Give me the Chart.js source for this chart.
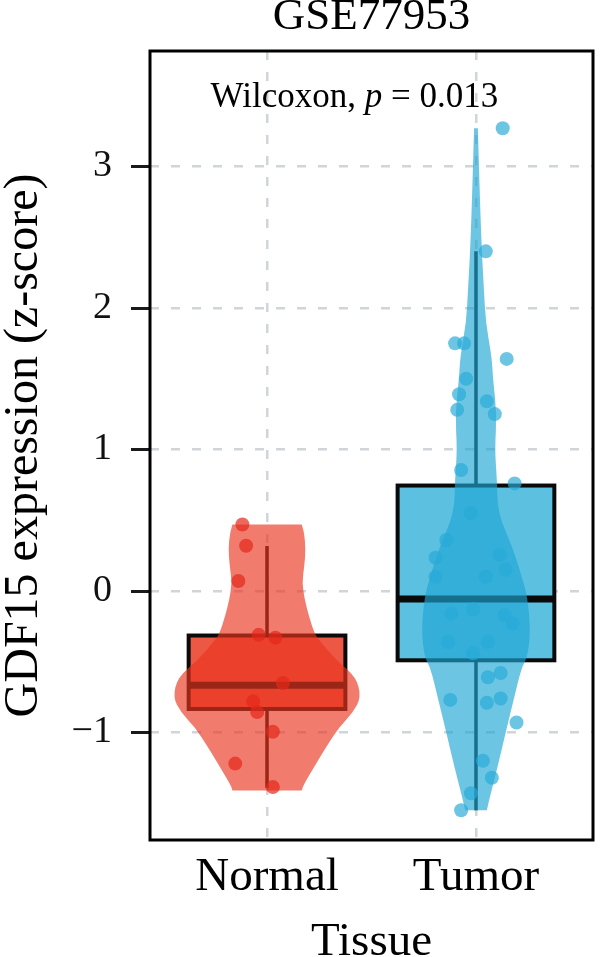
<!DOCTYPE html>
<html>
<head>
<meta charset="utf-8">
<script src="https://cdn.jsdelivr.net/npm/chart.js@4.4.1/dist/chart.umd.min.js"></script>
<style>
  html, body { margin: 0; padding: 0; background: #fff; }
  #wrap { width: 600px; height: 957px; }
</style>
</head>
<body>
<div id="wrap"><canvas id="gdfChart" width="600" height="957"></canvas></div>
<script>
// categorias y ejes
const groups = ['Normal', 'Tumor'];
const yTicks = [-1, 0, 1, 2, 3];
const chartTitle = 'GSE77953';

// muestras (z-score) y su jitter horizontal
const normalValues = [0.47, 0.32, 0.07, -0.31, -0.33, -0.65, -0.78, -0.855, -0.995, -1.22, -1.385];
const normalJitter = [-0.118, -0.10, -0.137, -0.04, 0.04, 0.076, -0.066, -0.047, 0.028, -0.152, 0.028];

const tumorValues = [3.27, 2.40, 1.75, 1.75, 1.64, 1.50, 1.39, 1.28, 1.34, 1.25, 0.855, 0.76, 0.55, 0.36,
  0.235, 0.255, 0.15, 0.10, 0.10, -0.13, -0.16, -0.17, -0.23, -0.36, -0.36, -0.44, -0.58, -0.61,
  -0.76, -0.77, -0.79, -0.93, -1.20, -1.32, -1.43, -1.55];
const tumorJitter = [0.128, 0.047, -0.10, -0.057, 0.147, -0.047, -0.081, -0.09, 0.052, 0.09, -0.071, 0.185, -0.024, -0.142,
  -0.194, 0.114, 0.142, -0.194, 0.047, -0.014, -0.118, 0.137, 0.175, -0.133, 0.057, -0.014, 0.118, 0.057,
  0.118, -0.123, 0.052, 0.194, 0.033, 0.076, -0.024, -0.071];

// estadisticos de caja: [bigote inf, Q1, mediana, Q3, bigote sup]
const normalBox = [-1.39, -0.834, -0.667, -0.315, 0.318];
const tumorBox = [-1.55, -0.49, -0.057, 0.745, 2.40];

// contorno del violin: niveles y semi-anchos (unidades del eje x)
const normalViolinY = [0.47, 0.41, 0.29, 0.17, 0.06, -0.06, -0.18, -0.30, -0.35, -0.49, -0.61, -0.75, -0.86, -0.96, -1.10, -1.24, -1.38, -1.41];
const normalViolinW = [0.166, 0.178, 0.185, 0.178, 0.168, 0.18, 0.201, 0.227, 0.251, 0.332, 0.427, 0.45, 0.412, 0.346, 0.284, 0.227, 0.171, 0.166];
const tumorViolinY = [3.27, 2.76, 2.40, 2.13, 1.89, 1.65, 1.50, 1.25, 1.00, 0.80, 0.55, 0.31, 0.08, -0.04, -0.28, -0.47, -0.54, -0.77, -1.00, -1.24, -1.48, -1.55];
const tumorViolinW = [0.009, 0.019, 0.028, 0.038, 0.047, 0.076, 0.081, 0.10, 0.09, 0.10, 0.104, 0.175, 0.223, 0.246, 0.261, 0.246, 0.218, 0.18, 0.142, 0.104, 0.062, 0.052];

// resultado del test
const statMethod = 'Wilcoxon';
const statP = '0.013';

const SERIF = '"Liberation Serif", "DejaVu Serif", serif';
const BOX_HALF = 0.375;
const STAT_X = 0.73, STAT_Y = 3.42;

const groupStyles = [
    { box: normalBox, vy: normalViolinY, vw: normalViolinW,
      boxFill: 'rgb(237, 88, 68)', violinFill: 'rgba(233, 53, 32, 0.65)' },
    { box: tumorBox, vy: tumorViolinY, vw: tumorViolinW,
      boxFill: 'rgb(92, 192, 225)', violinFill: 'rgba(29, 166, 212, 0.65)' }
];

function smoothSide(ctx, pts) {
    ctx.lineTo(pts[0][0], pts[0][1]);
    for (let k = 1; k < pts.length - 1; k++) {
        const mx = (pts[k][0] + pts[k + 1][0]) / 2;
        const my = (pts[k][1] + pts[k + 1][1]) / 2;
        ctx.quadraticCurveTo(pts[k][0], pts[k][1], mx, my);
    }
    const last = pts[pts.length - 1];
    ctx.lineTo(last[0], last[1]);
}

// cajas + violines, dibujados con las escalas del grafico
const violinBoxPlugin = {
    id: 'violinBox',
    beforeDatasetsDraw(chart) {
        const { ctx, scales: { x, y } } = chart;
        groupStyles.forEach((g, i) => {
            const c = i + 1;
            const [lo, q1, med, q3, hi] = g.box;
            const xc = x.getPixelForValue(c);
            const xl = x.getPixelForValue(c - BOX_HALF);
            const xr = x.getPixelForValue(c + BOX_HALF);
            ctx.save();
            ctx.setLineDash([]);
            ctx.strokeStyle = '#0a0a0a';
            ctx.lineWidth = 3.5;
            ctx.beginPath();
            ctx.moveTo(xc, y.getPixelForValue(hi));
            ctx.lineTo(xc, y.getPixelForValue(q3));
            ctx.moveTo(xc, y.getPixelForValue(q1));
            ctx.lineTo(xc, y.getPixelForValue(lo));
            ctx.stroke();
            const yq3 = y.getPixelForValue(q3), yq1 = y.getPixelForValue(q1);
            ctx.fillStyle = g.boxFill;
            ctx.fillRect(xl, yq3, xr - xl, yq1 - yq3);
            ctx.lineWidth = 4;
            ctx.strokeRect(xl, yq3, xr - xl, yq1 - yq3);
            ctx.lineWidth = 7;
            ctx.beginPath();
            ctx.moveTo(xl, y.getPixelForValue(med));
            ctx.lineTo(xr, y.getPixelForValue(med));
            ctx.stroke();

            // violin encima de la caja
            const right = g.vy.map((v, k) => [x.getPixelForValue(c + g.vw[k]), y.getPixelForValue(v)]).reverse();
            const left = g.vy.map((v, k) => [x.getPixelForValue(c - g.vw[k]), y.getPixelForValue(v)]);
            ctx.fillStyle = g.violinFill;
            ctx.beginPath();
            ctx.moveTo(right[0][0], right[0][1]);
            smoothSide(ctx, right);
            smoothSide(ctx, left);
            ctx.closePath();
            ctx.fill();
            ctx.restore();
        });
    },
    afterDraw(chart) {
        const { ctx, chartArea: a, scales: { x, y } } = chart;
        ctx.save();
        ctx.setLineDash([]);
        // titulo centrado sobre el panel
        ctx.fillStyle = '#000';
        ctx.font = '45px ' + SERIF;
        ctx.textAlign = 'center';
        ctx.textBaseline = 'middle';
        ctx.fillText(chartTitle, (a.left + a.right) / 2, 17);

        // texto del test
        let px = x.getPixelForValue(STAT_X);
        const py = y.getPixelForValue(STAT_Y);
        ctx.textBaseline = 'alphabetic';
        ctx.textAlign = 'left';
        const parts = [[statMethod + ', ', ''], ['p', 'italic '], [' = ' + statP, '']];
        parts.forEach(([t, st]) => {
            ctx.font = st + '35px ' + SERIF;
            ctx.fillText(t, px, py);
            px += ctx.measureText(t).width;
        });

        // marcas del eje y
        ctx.fillStyle = '#1a1a1a';
        for (const v of yTicks) {
            const ty = Math.round(y.getPixelForValue(v));
            ctx.fillRect(Math.round(a.left) - 19, ty - 1, 19, 3);
        }

        // marco del panel
        ctx.strokeStyle = '#000';
        ctx.lineWidth = 3;
        ctx.strokeRect(a.left, a.top, a.right - a.left, a.bottom - a.top);
        ctx.restore();
    }
};

const scatterData = (vals, jit, c) => vals.map((v, k) => ({ x: c + jit[k], y: v }));

Chart.defaults.font.family = SERIF;
Chart.defaults.color = '#000';

new Chart(document.getElementById('gdfChart').getContext('2d'), {
    type: 'scatter',
    data: {
        datasets: [
            { label: groups[0], data: scatterData(normalValues, normalJitter, 1),
              backgroundColor: 'rgba(228, 40, 25, 0.7)', borderWidth: 0, pointRadius: 7 },
            { label: groups[1], data: scatterData(tumorValues, tumorJitter, 2),
              backgroundColor: 'rgba(40, 170, 215, 0.68)', borderWidth: 0, pointRadius: 7 }
        ]
    },
    options: {
        responsive: false,
        animation: false,
        events: [],
        layout: { padding: { top: 51, right: 3, bottom: 0, left: 0 } },
        plugins: {
            legend: { display: false },
            tooltip: { enabled: false },
            title: { display: false }
        },
        scales: {
            x: {
                type: 'linear',
                min: 0.44,
                max: 2.56,
                afterBuildTicks: (s) => { s.ticks = groups.map((g, i) => ({ value: i + 1 })); },
                afterFit: (s) => { s.height = 117; },
                ticks: {
                    callback: (v) => groups[v - 1] || '',
                    font: { size: 47, family: SERIF },
                    color: '#000',
                    padding: 9,
                    maxRotation: 0
                },
                grid: { color: 'rgba(200, 206, 212, 0.85)', lineWidth: 2.5, drawTicks: false },
                border: { display: false, dash: [9, 12] },
                title: {
                    display: true, text: 'Tissue', color: '#000',
                    font: { size: 47, family: SERIF, lineHeight: 0.6 },
                    padding: { top: 0, bottom: 0 }
                }
            },
            y: {
                type: 'linear',
                min: -1.76,
                max: 3.816,
                afterBuildTicks: (s) => { s.ticks = yTicks.map(v => ({ value: v })); },
                afterFit: (s) => { s.width = 150; },
                ticks: {
                    callback: (v) => (v < 0 ? '\u2212' + Math.abs(v) : String(v)),
                    font: { size: 38, family: SERIF },
                    color: '#111',
                    padding: 20
                },
                grid: {
                    color: 'rgba(200, 206, 212, 0.85)', lineWidth: 2.5,
                    tickLength: 18, tickColor: 'rgba(0, 0, 0, 0)'
                },
                border: { display: false, dash: [9, 12] },
                title: {
                    display: true, text: 'GDF15 expression (z-score)', color: '#000',
                    font: { size: 48, family: SERIF, lineHeight: 1 },
                    padding: { top: 0, bottom: 0 }
                }
            }
        }
    },
    plugins: [violinBoxPlugin]
});
</script>
</body>
</html>
